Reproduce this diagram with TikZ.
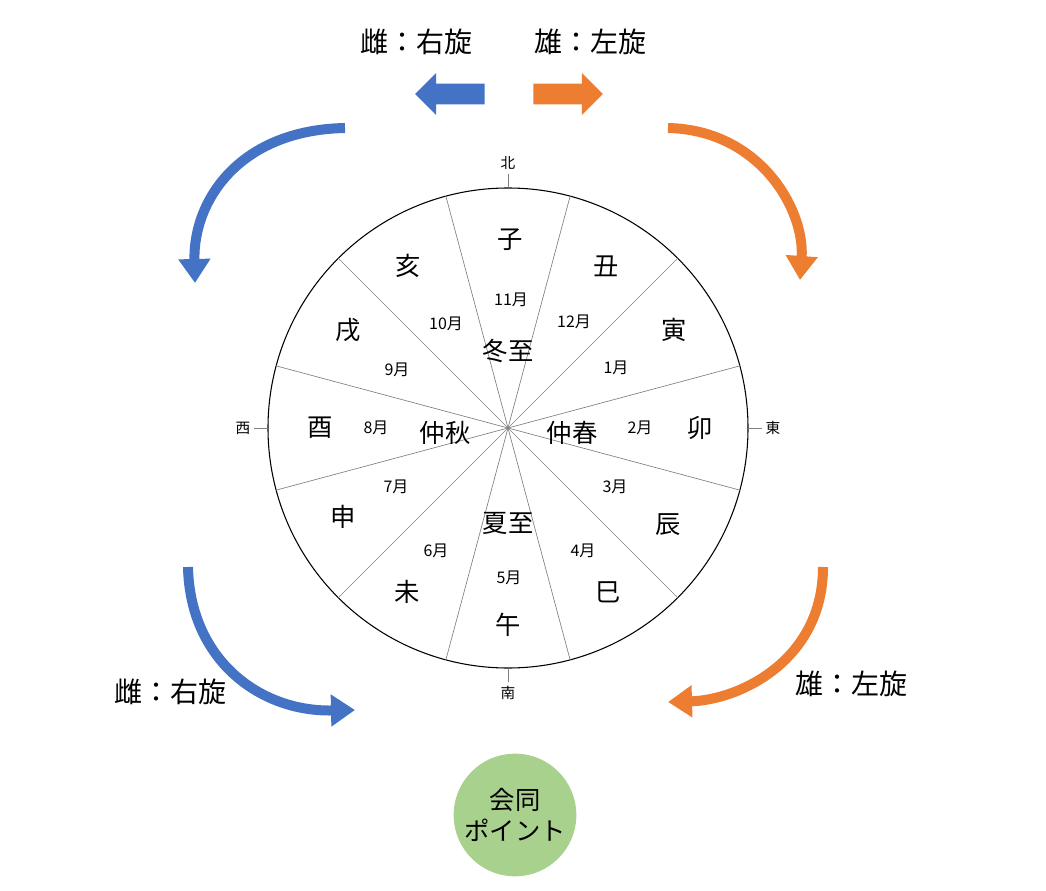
\documentclass[tikz,border=0pt]{standalone}
\usepackage{fontspec}
\setmainfont{Noto Sans CJK JP}
\usetikzlibrary{arrows.meta, shapes.arrows, positioning, calc}
\definecolor{mblue}{HTML}{4472C4}
\definecolor{morange}{HTML}{ED7D31}
\definecolor{mgreen}{HTML}{A9D18E}

\begin{document}
\begin{tikzpicture}[
    x=0.75pt, y=-0.75pt,
    branch/.style={font=\fontsize{19}{21}\selectfont},
    month/.style={font=\fontsize{12}{13}\selectfont},
    season/.style={font=\fontsize{19}{21}\selectfont},
    compass/.style={font=\fontsize{11}{12}\selectfont},
    title/.style={font=\fontsize{21}{24}\selectfont},
    blockarrow/.style={single arrow, minimum height=52pt, inner xsep=0pt, inner ysep=7.5pt,
      single arrow head extend=8pt, single arrow tip angle=90},
    turn/.style={line width=7.5pt, -{Triangle[width=23pt, length=18pt]}}
]
\useasboundingbox (0,0) rectangle (1046,891);

% Wheel
\coordinate (c) at (508,428);
\draw [line width=0.8pt] (c) circle [radius=240];
\foreach \a in {15,45,...,345}
  \draw [gray, line width=0.5pt] (c) -- ++(\a:240 and -240);

% Compass marks
\foreach \a/\t/\n in {90/北/north, 0/東/east, 180/西/west, 270/南/south} {
  \draw [gray, line width=0.5pt] (c) ++(\a:240 and -240) -- ++(\a:14 and -14);
  \node [compass] (\n) at ($(c)+(\a:265 and -265)$) {\t};
}

% Branches
\foreach \t/\x/\y [count=\i] in {子/510/240, 丑/606/266, 寅/674/330, 卯/700/428,
    辰/668/525, 巳/608/592, 午/508/625, 未/407/592, 申/343/517,
    酉/320/428, 戌/348/330, 亥/408/266}
  \node [branch] (b\i) at (\x,\y) {\t};

% Months
\foreach \t/\x/\y [count=\i] in {11月/511/300, 12月/574/322, 1月/616/368, 2月/640/428,
    3月/615/487, 4月/583/551, 5月/509/578, 6月/436/551, 7月/396/487,
    8月/376/428, 9月/397/370, 10月/446/324}
  \node [month] (m\i) at (\x,\y) {\t};

% Solstices and equinoxes
\node [season] (winter) at (508,351) {冬至};
\node [season] (summer) at (508,523) {夏至};
\node [season] (autumn) at (445,433) {仲秋};
\node [season] (spring) at (572,433) {仲春};

% Top legend
\node [title] (femtop) at (416,42) {雌：右旋};
\node [title] (maltop) at (590,42) {雄：左旋};
\node [blockarrow, fill=mblue, shape border rotate=180] (lefta) at (455,94) {};
\node [blockarrow, fill=morange] (righta) at (563,94) {};

% Turning arrows
\coordinate (tl0) at (345,128);
\coordinate (tl1) at (195,283);
\coordinate (tr0) at (668,128);
\coordinate (tr1) at (800,280);
\coordinate (bl0) at (188,567);
\coordinate (bl1) at (355,710);
\coordinate (br0) at (823,567);
\coordinate (br1) at (668,702);
\draw [turn, mblue] (tl0) .. controls (240,130) and (193,200) .. (tl1);
\draw [turn, morange] (tr0) .. controls (760,130) and (805,210) .. (tr1);
\draw [turn, mblue] (bl0) .. controls (190,660) and (260,712) .. (bl1);
\draw [turn, morange] (br0) .. controls (823,660) and (740,700) .. (br1);

\node [title] (fembot) at (170,692) {雌：右旋};
\node [title] (malbot) at (851,684) {雄：左旋};

% Meeting point
\node [circle, fill=mgreen, minimum size=92pt, align=center, inner sep=0pt,
  font=\fontsize{19}{23}\selectfont] (meet) at (515,815) {会同\\ポイント};

\end{tikzpicture}
\end{document}
